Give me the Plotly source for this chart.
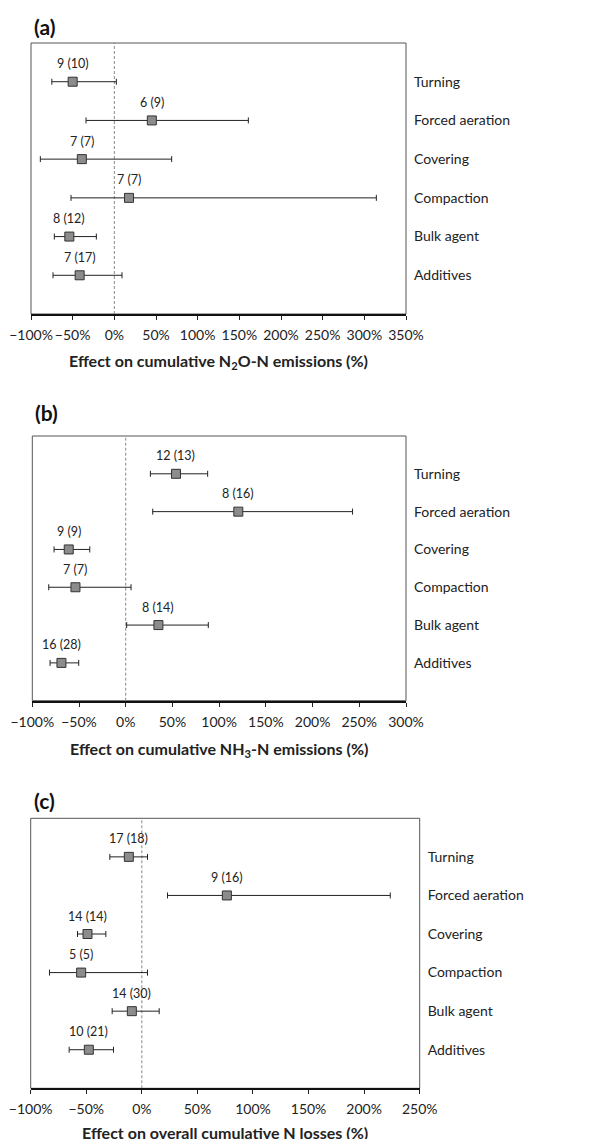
import plotly.graph_objects as go

categories = ["Turning", "Forced aeration", "Covering", "Compaction", "Bulk agent", "Additives"]

# Panel (a): N2O-N
a_mean = [-50, 45, -39, 17.6, -54, -41.6]
a_low = [-75, -34, -88.8, -52, -72, -73.6]
a_high = [2.4, 160.8, 68.8, 314.4, -21.6, 9.2]
a_n = ["9 (10)", "6 (9)", "7 (7)", "7 (7)", "8 (12)", "7 (17)"]
a_ticks = [-100, -50, 0, 50, 100, 150, 200, 250, 300, 350]

# Panel (b): NH3-N
b_mean = [53.8, 120.5, -61, -53.8, 35, -68.8]
b_low = [26.4, 28.9, -76.7, -82.4, 1, -81]
b_high = [87.7, 242.8, -38.5, 5.7, 88.4, -50.3]
b_n = ["12 (13)", "8 (16)", "9 (9)", "7 (7)", "8 (14)", "16 (28)"]
b_ticks = [-100, -50, 0, 50, 100, 150, 200, 250, 300]

# Panel (c): overall N losses
c_mean = [-11.7, 76.5, -48.9, -54.6, -9, -47.7]
c_low = [-28.8, 23.1, -57.9, -83.1, -26.7, -65.4]
c_high = [5.1, 223.5, -32.4, 5.1, 15.6, -25.5]
c_n = ["17 (18)", "9 (16)", "14 (14)", "5 (5)", "14 (30)", "10 (21)"]
c_ticks = [-100, -50, 0, 50, 100, 150, 200, 250]

OFF = 8  # default page body margin
W, H = 610 - OFF, 1139 - OFF
FONT = "Lato, Open Sans, sans-serif"

panels = [
    dict(mean=a_mean, low=a_low, high=a_high, n=a_n, ticks=a_ticks, letter="(a)",
         title="Effect on cumulative N<sub>2</sub>O-N emissions (%)",
         box=(31, 43, 406, 314), letter_y=27, title_y=361.7),
    dict(mean=b_mean, low=b_low, high=b_high, n=b_n, ticks=b_ticks, letter="(b)",
         title="Effect on cumulative NH<sub>3</sub>-N emissions (%)",
         box=(32.3, 436, 406, 700.7), letter_y=413, title_y=749),
    dict(mean=c_mean, low=c_low, high=c_high, n=c_n, ticks=c_ticks, letter="(c)",
         title="Effect on overall cumulative N losses (%)",
         box=(30.7, 818.3, 419.7, 1088.3), letter_y=800, title_y=1132.7),
]

fig = go.Figure()
layout = dict(
    width=W, height=H, margin=dict(l=0, r=0, t=0, b=0, autoexpand=False),
    paper_bgcolor="white", plot_bgcolor="white", showlegend=False,
    font=dict(family=FONT, size=13, color="#222"),
)
shapes = []
annotations = []

def fmt(v):
    return ("\u2212" if v < 0 else "") + f"{abs(v)}%"

def px(x):
    return (x - OFF) / W

def py(y):
    return 1 - (y - OFF) / H

for i, p in enumerate(panels):
    k = "" if i == 0 else str(i + 1)
    xa, ya = "x" + k, "y" + k
    x0, y0, x1, y1 = p["box"]
    plus = [h - m for h, m in zip(p["high"], p["mean"])]
    minus = [m - l for m, l in zip(p["mean"], p["low"])]
    fig.add_trace(go.Scatter(
        x=p["mean"], y=categories, mode="markers", xaxis=xa, yaxis=ya,
        marker=dict(symbol="square", size=9, color="#8c8c8c",
                    line=dict(color="#333", width=1)),
        error_x=dict(type="data", array=plus, arrayminus=minus, symmetric=False,
                     color="#222", thickness=1, width=3),
        hoverinfo="skip",
    ))
    tmin, tmax = p["ticks"][0], p["ticks"][-1]
    layout["xaxis" + k] = dict(
        domain=[px(x0), px(x1)], anchor=ya, range=[tmin, tmax],
        tickvals=p["ticks"], ticktext=[fmt(t) for t in p["ticks"]],
        ticks="outside", ticklen=4, tickwidth=1, tickcolor="#222",
        ticklabelstandoff=3, tickangle=0,
        showline=True, linecolor="#111", linewidth=2, showgrid=False, zeroline=False,
        tickfont=dict(size=14, family=FONT, color="#222"),
        automargin=False, fixedrange=True,
    )
    layout["yaxis" + k] = dict(
        domain=[py(y1), py(y0)], anchor=xa, side="right",
        type="category", categoryarray=categories, range=[6, -1],
        showline=False, showgrid=False, zeroline=False, ticks="",
        ticklabelstandoff=7,
        tickfont=dict(size=14, family=FONT, color="#222"),
        automargin=False, fixedrange=True,
    )
    # frame
    shapes.append(dict(type="rect", xref=xa + " domain", yref=ya + " domain",
                       x0=0, x1=1, y0=0, y1=1, line=dict(color="#555", width=1),
                       layer="below"))
    # zero line dashed
    shapes.append(dict(type="line", xref=xa, yref=ya + " domain", x0=0, x1=0,
                       y0=0, y1=1, line=dict(color="#888", width=1, dash="3px,2px"),
                       layer="below"))
    for m, c, lab in zip(p["mean"], categories, p["n"]):
        annotations.append(dict(x=m, y=c, xref=xa, yref=ya, text=lab, showarrow=False,
                                yshift=18, font=dict(size=12.5, family=FONT, color="#222")))
    annotations.append(dict(x=px(x0 + 1), y=py(p["letter_y"]), xref="paper", yref="paper",
                            text="<b>" + p["letter"] + "</b>", showarrow=False,
                            xanchor="left", yanchor="middle",
                            font=dict(size=21, family=FONT, color="#111")))
    annotations.append(dict(x=px((x0 + x1) / 2), y=py(p["title_y"]), xref="paper", yref="paper",
                            text="<b>" + p["title"] + "</b>", showarrow=False,
                            xanchor="center", yanchor="middle",
                            font=dict(size=16, family=FONT, color="#222")))

layout["shapes"] = shapes
layout["annotations"] = annotations
fig.update_layout(**layout)
fig.write_html("out.html")
